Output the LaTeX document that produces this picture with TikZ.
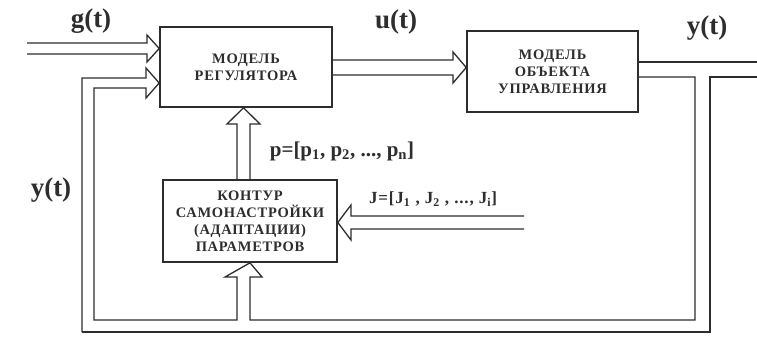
\documentclass[tikz,border=0pt]{standalone}
\usepackage{fontspec}
\setmainfont{Liberation Serif}
\newfontfamily\boxfont[LetterSpace=5]{Liberation Serif}
\usetikzlibrary{calc}
\definecolor{ink}{RGB}{45,45,45}
\begin{document}
\begin{tikzpicture}[x=1pt,y=-1pt, ink,
  blk/.style={draw=ink, line width=1.6pt, inner sep=0pt, align=center, text=ink,
     font=\boxfont\bfseries\fontsize{14.5}{17}\selectfont},
  lbl/.style={font=\bfseries\fontsize{27}{27}\selectfont, text=ink, inner sep=0pt},
  slbl/.style={font=\bfseries\fontsize{21}{21}\selectfont, text=ink, inner sep=0pt},
  jlbl/.style={font=\boxfont\bfseries\fontsize{17}{17}\selectfont, text=ink, inner sep=0pt},
  pipe/.style={draw=ink, line width=1.3pt, line join=miter}]
\useasboundingbox (0,0) rectangle (757,338);
\fill[white] (0,0) rectangle (757,338);

% blocks
\node[blk, minimum width=172pt, minimum height=80pt] (reg) at (246,67) {МОДЕЛЬ\\РЕГУЛЯТОРА};
\node[blk, minimum width=171pt, minimum height=81pt] (obj) at (552.5,71.5) {МОДЕЛЬ\\ОБЪЕКТА\\УПРАВЛЕНИЯ};
\node[blk, minimum width=174pt, minimum height=82pt] (kont) at (250,221) {КОНТУР\\САМОНАСТРОЙКИ\\(АДАПТАЦИИ)\\ПАРАМЕТРОВ};

% labels
\node[lbl] (g) at (91,21) {g(t)};
\node[lbl] (u) at (396,22) {u(t)};
\node[lbl] (yr) at (707,28) {y(t)};
\node[lbl] (yl) at (51,190) {y(t)};
\node[slbl] (p) at (342,151) {p=[p\textsubscript{1}, p\textsubscript{2}, ..., p\textsubscript{n}]};
\node[jlbl] (J) at (433,199) {J=[J\textsubscript{1} , J\textsubscript{2} , ..., J\textsubscript{i}]};

% g(t) input
\coordinate (gtip) at (reg.west |- 0,48.5);
\draw[pipe] (27,43) -- (147,43) -- (147,35) -- (gtip) -- (147,62) -- (147,54) -- (27,54);

% feedback loop
\coordinate (ftip) at (reg.west |- 0,83);
\draw[pipe] (82,332) -- (82,78) -- (146,78) -- (146,68) -- (ftip) -- (146,98) -- (146,88) -- (94,88) -- (94,320) -- (237,320) -- (237,277) -- (225,277) -- (kont.south) -- (262,277) -- (250,277) -- (250,320) -- (695,320) -- (695,77) -- (obj.east |- 0,77);
\draw[pipe] (82,332) -- (710,332) -- (710,77) -- (757,77);
\draw[pipe] (obj.east |- 0,62) -- (757,62);

% u(t)
\coordinate (utip) at (obj.west |- 0,67.5);
\draw[pipe] (reg.east |- 0,60) -- (453,60) -- (453,52) -- (utip) -- (453,83) -- (453,75) -- (reg.east |- 0,75);

% p arrow from kont to reg
\coordinate (ptip) at (243.5,0 |- reg.south);
\draw[pipe] (237,0 |- kont.north) -- (237,124) -- (227,124) -- (ptip) -- (260,124) -- (250,124) -- (250,0 |- kont.north);

% J input
\coordinate (jtip) at (kont.east |- 0,222.5);
\draw[pipe] (524,216) -- (351,216) -- (351,205) -- (jtip) -- (351,240) -- (351,229) -- (524,229);
\end{tikzpicture}
\end{document}
